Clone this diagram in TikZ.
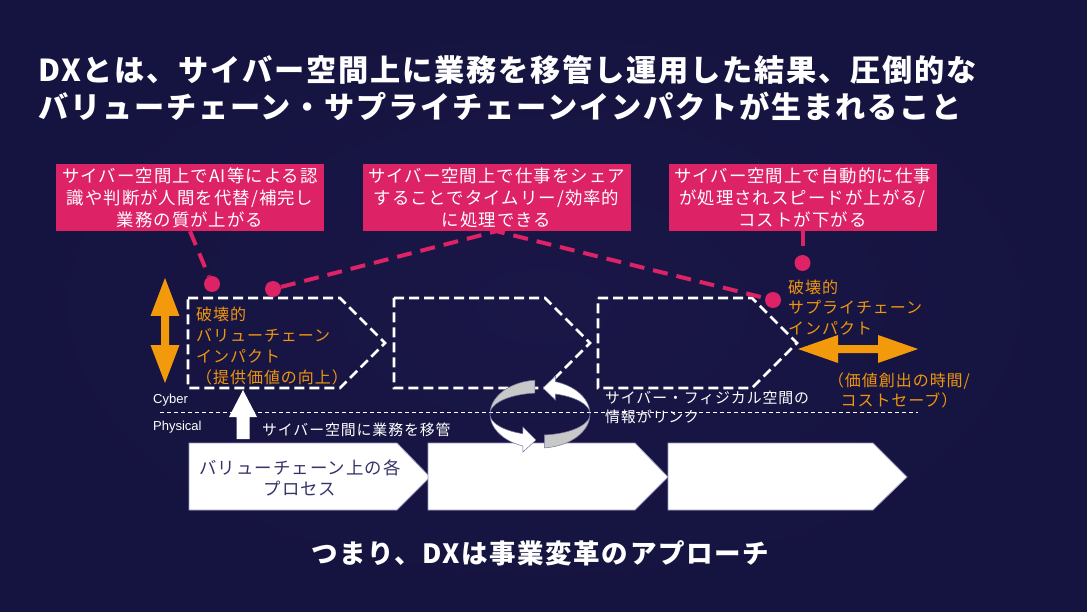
\documentclass[tikz,border=0pt]{standalone}
\usepackage{fontspec}
\newfontfamily\jp[LetterSpace=6]{Noto Sans CJK JP}
\newfontfamily\jpt[LetterSpace=6]{Noto Sans CJK JP}
\newfontfamily\arialf{Liberation Sans}
\usetikzlibrary{calc}
\definecolor{bgc}{HTML}{1A1748}
\definecolor{bgo}{HTML}{15133F}
\definecolor{pinkc}{HTML}{DD2266}
\definecolor{orangec}{HTML}{F39A0C}
\definecolor{orangetx}{HTML}{EE960E}
\definecolor{ringgray}{HTML}{C8C8C8}
\definecolor{navytext}{HTML}{35336A}
\definecolor{edgec}{HTML}{9A98C0}
\begin{document}
\begin{tikzpicture}[x=1pt,y=-1pt,
  callout/.style={fill=pinkc, text=white, minimum width=268pt, minimum height=67pt,
    inner sep=0pt, align=center, font=\jp\fontsize{17.4}{22}\selectfont},
  dot/.style={circle, fill=pinkc, minimum size=16pt, inner sep=0pt},
  pinkdash/.style={draw=pinkc, line width=4pt, dash pattern=on 15pt off 9pt},
  whitedash/.style={draw=white, line width=2.6pt, dash pattern=on 10pt off 5pt},
  procbox/.style={fill=white, draw=edgec, line width=0.8pt},
  orangetxt/.style={text=orangetx, inner sep=0pt, font=\jp\fontsize{16}{21}\selectfont},
  whitetxt/.style={text=white, inner sep=0pt},
  ringedge/.style={draw=edgec!70!bgc, line width=0.5pt}
]
\useasboundingbox (0,0) rectangle (1087,612);
\shade[inner color=bgc, outer color=bgo] (0,0) rectangle (1087,612);

% title
\node[whitetxt, anchor=west, align=left, font=\jpt\bfseries\fontsize{30.2}{37}\selectfont] (title) at (38,88.5)
  {DXとは、サイバー空間上に業務を移管し運用した結果、圧倒的な\\バリューチェーン・サプライチェーンインパクトが生まれること};

% callouts
\node[callout] (b1) at (190,197.5) {サイバー空間上でAI等による認\\識や判断が人間を代替/補完し\\業務の質が上がる};
\node[callout] (b2) at (496.5,197.5) {サイバー空間上で仕事をシェア\\することでタイムリー/効率的\\に処理できる};
\node[callout] (b3) at (802.5,197.5) {サイバー空間上で自動的に仕事\\が処理されスピードが上がる/\\コストが下がる};

% cyber / physical divider
\draw[white, line width=0.8pt, dash pattern=on 4pt off 3pt] (160,412) -- (918,412);
\node[whitetxt, anchor=west, font=\arialf\fontsize{13}{15}\selectfont] (cyber) at (153,400) {Cyber};
\node[whitetxt, anchor=west, font=\arialf\fontsize{13}{15}\selectfont] (phys) at (153,427) {Physical};

% dashed cyber pentagons
\draw[whitedash] (188,298) -- (340,298) -- (385,343) -- (340,388) -- (188,388) -- cycle;
\draw[whitedash] (394,298) -- (545,298) -- (590,343) -- (545,388) -- (394,388) -- cycle;
\draw[whitedash] (598,298) -- (752,298) -- (797,343) -- (752,388) -- (598,388) -- cycle;

% pink dots and connectors
\node[dot] (d1) at (212,284) {};
\node[dot] (d2) at (273,289) {};
\node[dot] (d3) at (773,300) {};
\node[dot] (d4) at (802.5,263) {};
\draw[pinkdash] (b1.south) -- (d1);
\draw[pinkdash] (d2) -- (b2.south) -- (d3);
\draw[pinkdash] (b3.south) -- (d4);

% orange texts
\node[orangetxt, anchor=west, align=left] (vc) at (196,346.5) {破壊的\\バリューチェーン\\インパクト\\（提供価値の向上）};
\node[orangetxt, anchor=west, align=left, font=\jp\fontsize{16}{20.5}\selectfont] (sc) at (788,307.5) {破壊的\\サプライチェーン\\インパクト};
\node[orangetxt, align=center, font=\jp\fontsize{16}{20}\selectfont] (cost) at (899,390) {（価値創出の時間/\\コストセーブ）};

% orange arrows
\fill[orangec] (165,278) -- (179.5,316) -- (169,316) -- (169,345) -- (179.5,345) -- (165,383)
  -- (150.5,345) -- (161,345) -- (161,316) -- (150.5,316) -- cycle;
\fill[orangec] (798,349) -- (838,335) -- (838,345) -- (878,345) -- (878,335) -- (918,349)
  -- (878,363) -- (878,353) -- (838,353) -- (838,363) -- cycle;

% white up arrow
\fill[white] (243,390) -- (257,417) -- (249.5,417) -- (249.5,439) -- (236.5,439) -- (236.5,417) -- (229,417) -- cycle;
\node[whitetxt, anchor=west, font=\jp\fontsize{14.9}{18}\selectfont] (move) at (262,430) {サイバー空間に業務を移管};

% link text
\node[whitetxt, anchor=west, align=left, font=\jp\fontsize{14.9}{19}\selectfont] (link) at (605,407.5) {サイバー・フィジカル空間の\\情報がリンク};

% bottom process pentagons
\filldraw[procbox] (189,443) -- (397,443) -- (430,477) -- (397,510) -- (189,510) -- cycle;
\filldraw[procbox] (428,443) -- (635,443) -- (668,477) -- (635,510) -- (428,510) -- cycle;
\filldraw[procbox] (668,443) -- (873,443) -- (907,477) -- (873,510) -- (668,510) -- cycle;
\node[text=navytext, inner sep=0pt, align=center, font=\jp\fontsize{17.4}{21}\selectfont] (proc) at (300,477.5) {バリューチェーン上の各\\プロセス};

% ring arrows
\filldraw[fill=ringgray, ringedge] plot[domain=96:180, samples=40] ({540+50*cos(\x)},{414-34*sin(\x)})
  -- plot[domain=180:96, samples=40] ({540+50*cos(\x)},{414-21*sin(\x)}) -- cycle;
\filldraw[fill=white, ringedge] plot[domain=180:250, samples=40] ({540+50*cos(\x)},{414-34*sin(\x)})
  -- (522.9,452) -- (536,440) -- (522.9,427)
  -- plot[domain=250:180, samples=40] ({540+50*cos(\x)},{414-21*sin(\x)}) -- cycle;
\filldraw[fill=ringgray, ringedge] plot[domain=275:360, samples=40] ({540+50*cos(\x)},{414-34*sin(\x)})
  -- plot[domain=360:275, samples=40] ({540+50*cos(\x)},{414-21*sin(\x)}) -- cycle;
\filldraw[fill=white, ringedge] plot[domain=0:72, samples=40] ({540+50*cos(\x)},{414-34*sin(\x)})
  -- (555.5,376) -- (543,388) -- (555.5,400)
  -- plot[domain=72:0, samples=40] ({540+50*cos(\x)},{414-21*sin(\x)}) -- cycle;

% bottom message
\node[whitetxt, font=\jp\bfseries\fontsize{26.5}{30}\selectfont] (msg) at (540,553) {つまり、DXは事業変革のアプローチ};
\end{tikzpicture}
\end{document}
